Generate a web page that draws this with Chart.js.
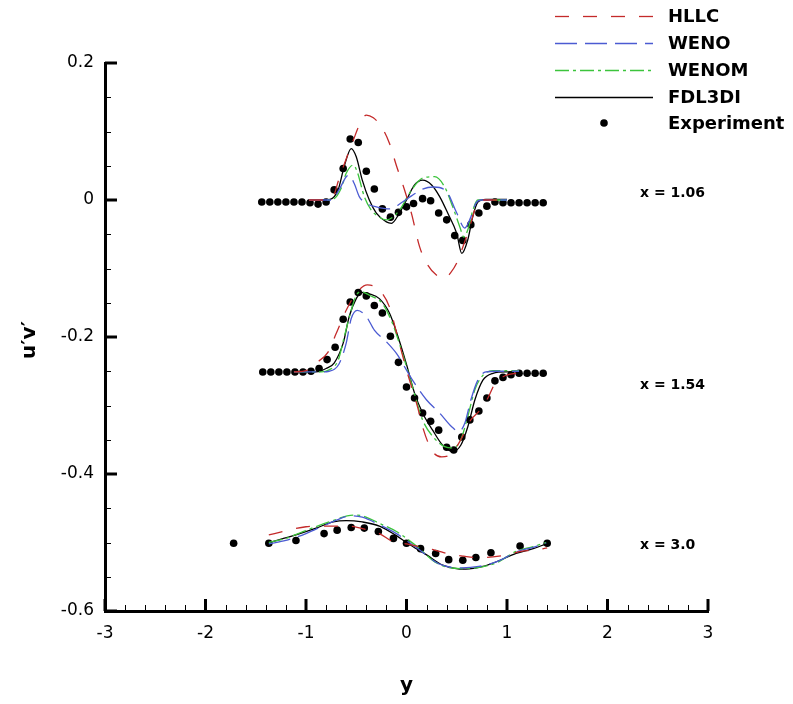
<!DOCTYPE html>
<html lang="en">
<head>
  <meta charset="UTF-8">
  <title>Reynolds shear stress profiles</title>
  <script src="https://cdn.jsdelivr.net/npm/chart.js"></script>
  <style>
    html, body { margin: 0; padding: 0; background: #fff; }
    #wrap { width: 793px; height: 704px; }
  </style>
</head>
<body>
  <div id="wrap"><canvas id="profileChart" width="793" height="704"></canvas></div>

  <script>
    // ---- station x = 1.06 ----
    const expX1 = [-1.44,-1.36,-1.28,-1.20,-1.12,-1.04,-0.96,-0.88,-0.80,-0.72,-0.63,-0.56,-0.48,-0.40,-0.32,-0.24,-0.16,-0.08,0.0,0.07,0.16,0.24,0.32,0.40,0.48,0.56,0.64,0.72,0.80,0.88,0.96,1.04,1.12,1.20,1.28,1.36];
    const expY1 = [-0.003,-0.003,-0.003,-0.003,-0.003,-0.003,-0.004,-0.006,-0.003,0.015,0.046,0.089,0.084,0.042,0.016,-0.013,-0.025,-0.018,-0.010,-0.005,0.002,-0.001,-0.019,-0.029,-0.052,-0.059,-0.036,-0.019,-0.009,-0.003,-0.004,-0.004,-0.004,-0.004,-0.004,-0.004];
    const fdlX1 = [-0.97,-0.85,-0.76,-0.68,-0.62,-0.55,-0.50,-0.44,-0.37,-0.30,-0.20,-0.15,-0.07,0.0,0.08,0.16,0.25,0.33,0.41,0.50,0.55,0.61,0.66,0.71,0.79,0.90,1.0];
    const fdlY1 = [0,0,0.001,0.015,0.049,0.075,0.063,0.029,0.0,-0.019,-0.032,-0.034,-0.019,0.0,0.022,0.029,0.022,0.005,-0.019,-0.049,-0.078,-0.058,-0.024,-0.003,0.001,0.001,0.001];
    const wenomX1 = [-0.97,-0.80,-0.72,-0.65,-0.60,-0.53,-0.49,-0.42,-0.35,-0.30,-0.20,-0.07,0.03,0.16,0.28,0.38,0.46,0.53,0.57,0.62,0.66,0.71,0.80,1.0];
    const wenomY1 = [0,0,0.002,0.017,0.039,0.051,0.041,0.005,-0.015,-0.022,-0.029,-0.015,0.010,0.032,0.034,0.019,-0.010,-0.039,-0.054,-0.039,-0.015,0,0,0];
    const wenoX1 = [-0.97,-0.75,-0.67,-0.60,-0.57,-0.52,-0.47,-0.40,-0.30,-0.17,-0.04,0.05,0.16,0.27,0.40,0.50,0.58,0.64,0.69,0.74,0.85,1.0];
    const wenoY1 = [0,0,0.015,0.034,0.036,0.024,0.005,-0.005,-0.010,-0.013,-0.003,0.006,0.016,0.019,0.012,-0.019,-0.041,-0.025,-0.005,0,0,0];
    const hllcX1 = [-0.97,-0.78,-0.72,-0.68,-0.60,-0.53,-0.47,-0.40,-0.33,-0.25,-0.17,-0.10,-0.02,0.05,0.13,0.20,0.30,0.38,0.44,0.50,0.55,0.63,0.69,0.76,1.0];
    const hllcY1 = [0,0,0.008,0.027,0.060,0.087,0.109,0.124,0.120,0.107,0.083,0.050,0.015,-0.020,-0.068,-0.092,-0.110,-0.114,-0.106,-0.092,-0.073,-0.039,-0.010,0,0];

    // ---- station x = 1.54 ----
    const expX2 = [-1.43,-1.35,-1.27,-1.19,-1.11,-1.03,-0.95,-0.87,-0.79,-0.71,-0.63,-0.56,-0.48,-0.40,-0.32,-0.24,-0.16,-0.08,0.0,0.08,0.16,0.24,0.32,0.40,0.47,0.55,0.63,0.72,0.80,0.88,0.96,1.04,1.12,1.20,1.28,1.36];
    const expY2 = [-0.251,-0.251,-0.251,-0.251,-0.251,-0.251,-0.250,-0.246,-0.233,-0.215,-0.174,-0.149,-0.135,-0.140,-0.154,-0.165,-0.199,-0.237,-0.273,-0.289,-0.311,-0.323,-0.336,-0.361,-0.365,-0.346,-0.321,-0.308,-0.289,-0.264,-0.259,-0.255,-0.253,-0.253,-0.253,-0.253];
    const fdlX2 = [-1.12,-0.90,-0.80,-0.72,-0.63,-0.57,-0.50,-0.45,-0.37,-0.27,-0.17,-0.09,0.0,0.08,0.16,0.26,0.36,0.46,0.54,0.61,0.68,0.76,0.86,0.99,1.12];
    const fdlY2 = [-0.251,-0.251,-0.246,-0.238,-0.209,-0.170,-0.144,-0.135,-0.137,-0.144,-0.165,-0.197,-0.240,-0.282,-0.311,-0.336,-0.358,-0.367,-0.358,-0.331,-0.292,-0.263,-0.253,-0.251,-0.251];
    const wenomX2 = [-1.12,-0.85,-0.77,-0.68,-0.62,-0.55,-0.50,-0.45,-0.37,-0.24,-0.14,-0.04,0.06,0.16,0.26,0.38,0.46,0.54,0.61,0.68,0.76,0.86,1.12];
    const wenomY2 = [-0.251,-0.251,-0.248,-0.234,-0.200,-0.161,-0.139,-0.134,-0.139,-0.151,-0.180,-0.224,-0.273,-0.321,-0.345,-0.360,-0.362,-0.350,-0.316,-0.277,-0.256,-0.249,-0.249];
    const wenoX2 = [-1.12,-0.85,-0.77,-0.67,-0.60,-0.55,-0.49,-0.40,-0.32,-0.20,-0.10,0.06,0.20,0.33,0.45,0.52,0.58,0.64,0.71,0.79,0.90,1.12];
    const wenoY2 = [-0.251,-0.251,-0.250,-0.239,-0.209,-0.173,-0.161,-0.170,-0.190,-0.207,-0.224,-0.263,-0.292,-0.311,-0.331,-0.338,-0.326,-0.292,-0.263,-0.251,-0.250,-0.250];
    const hllcX2 = [-1.12,-1.0,-0.92,-0.78,-0.70,-0.60,-0.50,-0.39,-0.29,-0.17,-0.09,0.0,0.03,0.11,0.16,0.25,0.35,0.45,0.54,0.64,0.73,0.81,0.88,0.96,1.12];
    const hllcY2 = [-0.251,-0.249,-0.240,-0.222,-0.195,-0.161,-0.136,-0.124,-0.129,-0.156,-0.199,-0.248,-0.263,-0.302,-0.331,-0.365,-0.375,-0.370,-0.350,-0.321,-0.307,-0.289,-0.268,-0.258,-0.252];

    // ---- station x = 3.0 ----
    const expX3 = [-1.72,-1.37,-1.10,-0.82,-0.69,-0.55,-0.42,-0.28,-0.13,0.0,0.14,0.29,0.42,0.56,0.69,0.84,1.13,1.40];
    const expY3 = [-0.501,-0.501,-0.497,-0.487,-0.482,-0.478,-0.479,-0.484,-0.494,-0.501,-0.509,-0.516,-0.525,-0.526,-0.522,-0.515,-0.505,-0.501];
    const fdlX3 = [-1.37,-1.10,-0.90,-0.73,-0.60,-0.44,-0.27,-0.10,0.01,0.20,0.36,0.59,0.76,0.93,1.09,1.26,1.39];
    const fdlY3 = [-0.500,-0.489,-0.479,-0.470,-0.468,-0.470,-0.476,-0.490,-0.501,-0.518,-0.533,-0.539,-0.535,-0.526,-0.516,-0.509,-0.502];
    const wenomX3 = [-1.37,-1.20,-1.03,-0.77,-0.53,-0.44,-0.27,-0.10,0.0,0.13,0.30,0.53,0.69,0.89,1.09,1.26,1.39];
    const wenomY3 = [-0.500,-0.494,-0.484,-0.470,-0.460,-0.461,-0.472,-0.484,-0.494,-0.509,-0.530,-0.538,-0.537,-0.530,-0.513,-0.506,-0.500];
    const wenoX3 = [-1.37,-1.20,-1.00,-0.77,-0.55,-0.44,-0.27,-0.10,0.0,0.15,0.32,0.55,0.72,0.90,1.09,1.26,1.39];
    const wenoY3 = [-0.502,-0.497,-0.487,-0.472,-0.461,-0.463,-0.474,-0.487,-0.497,-0.513,-0.531,-0.537,-0.535,-0.528,-0.514,-0.507,-0.501];
    const hllcX3 = [-1.37,-1.20,-1.00,-0.80,-0.60,-0.40,-0.27,-0.13,0.0,0.15,0.28,0.43,0.57,0.72,0.86,1.00,1.14,1.29,1.40];
    const hllcY3 = [-0.489,-0.483,-0.477,-0.476,-0.476,-0.481,-0.487,-0.499,-0.502,-0.507,-0.511,-0.517,-0.520,-0.522,-0.521,-0.518,-0.513,-0.511,-0.508];

    const xTicks = [-3, -2, -1, 0, 1, 2, 3];
    const yTicks = [0.2, 0, -0.2, -0.4, -0.6];
    const legendLabels = ['HLLC', 'WENO', 'WENOM', 'FDL3DI', 'Experiment'];
    const stationLabels = ['x = 1.06', 'x = 1.54', 'x = 3.0'];
    const stationY = [0.009, -0.27, -0.504];

    function pts(xs, ys) {
      return xs.map((x, i) => ({ x: x, y: ys[i] }));
    }

    const styles = {
      HLLC:   { color: '#c42a2a', dash: [14, 14] },
      WENO:   { color: '#4b5bd2', dash: [22, 8] },
      WENOM:  { color: '#3cc43c', dash: [14, 4, 3, 4] },
      FDL3DI: { color: '#000000', dash: [] }
    };

    function curve(name, xs, ys) {
      const s = styles[name];
      return {
        label: name,
        data: pts(xs, ys),
        showLine: true,
        borderColor: s.color,
        borderDash: s.dash,
        borderWidth: 1.3,
        pointRadius: 0,
        cubicInterpolationMode: 'monotone',
        fill: false
      };
    }

    function experiment(xs, ys) {
      return {
        label: 'Experiment',
        data: pts(xs, ys),
        showLine: false,
        pointRadius: 3.8,
        pointBackgroundColor: '#000',
        pointBorderWidth: 0,
        pointHoverRadius: 3.8
      };
    }

    const datasets = [
      curve('HLLC', hllcX1, hllcY1), curve('HLLC', hllcX2, hllcY2), curve('HLLC', hllcX3, hllcY3),
      curve('WENO', wenoX1, wenoY1), curve('WENO', wenoX2, wenoY2), curve('WENO', wenoX3, wenoY3),
      curve('WENOM', wenomX1, wenomY1), curve('WENOM', wenomX2, wenomY2), curve('WENOM', wenomX3, wenomY3),
      curve('FDL3DI', fdlX1, fdlY1), curve('FDL3DI', fdlX2, fdlY2), curve('FDL3DI', fdlX3, fdlY3),
      experiment(expX1, expY1), experiment(expX2, expY2), experiment(expX3, expY3)
    ];

    // inward major/minor ticks, legend, station labels and axis titles
    const decorations = {
      id: 'decorations',
      afterDraw(chart) {
        const ctx = chart.ctx;
        const xs = chart.scales.x, ys = chart.scales.y;
        const left = chart.chartArea.left, bottom = chart.chartArea.bottom;
        ctx.save();
        ctx.strokeStyle = '#000';

        // minor ticks
        ctx.lineWidth = 1;
        for (let v = -3; v <= 3.001; v += 0.2) {
          const p = Math.round(xs.getPixelForValue(v)) + 0.5;
          ctx.beginPath(); ctx.moveTo(p, bottom); ctx.lineTo(p, bottom - 6); ctx.stroke();
        }
        for (let v = -0.6; v <= 0.201; v += 0.05) {
          const p = Math.round(ys.getPixelForValue(v)) + 0.5;
          ctx.beginPath(); ctx.moveTo(left, p); ctx.lineTo(left + 6, p); ctx.stroke();
        }
        // major ticks
        ctx.lineWidth = 3;
        xTicks.forEach(v => {
          const p = xs.getPixelForValue(v);
          ctx.beginPath(); ctx.moveTo(p, bottom); ctx.lineTo(p, bottom - 12); ctx.stroke();
        });
        yTicks.forEach(v => {
          const p = ys.getPixelForValue(v);
          ctx.beginPath(); ctx.moveTo(left, p); ctx.lineTo(left + 12, p); ctx.stroke();
        });

        // legend
        const rowY = [16, 43, 70, 97, 123];
        ctx.textBaseline = 'middle';
        ctx.textAlign = 'left';
        ctx.font = 'bold 18px "DejaVu Sans"';
        legendLabels.forEach((name, i) => {
          const y = rowY[i];
          if (styles[name]) {
            ctx.strokeStyle = styles[name].color;
            ctx.lineWidth = 1.3;
            ctx.setLineDash(styles[name].dash);
            ctx.beginPath(); ctx.moveTo(555, y + 0.5); ctx.lineTo(653, y + 0.5); ctx.stroke();
            ctx.setLineDash([]);
          } else {
            ctx.fillStyle = '#000';
            ctx.beginPath(); ctx.arc(604, y, 3.8, 0, Math.PI * 2); ctx.fill();
          }
          ctx.fillStyle = '#000';
          ctx.fillText(name, 668, y + 1);
        });

        // station labels
        ctx.font = 'bold 14px "DejaVu Sans"';
        stationLabels.forEach((t, i) => {
          ctx.fillText(t, 640, ys.getPixelForValue(stationY[i]));
        });

        // axis titles
        ctx.font = 'bold 20px "DejaVu Sans"';
        ctx.textAlign = 'center';
        ctx.fillText('y', xs.getPixelForValue(0), 686);
        ctx.translate(30, 340);
        ctx.rotate(-Math.PI / 2);
        ctx.fillText('u\u2032v\u2032', 0, 0);
        ctx.restore();
      }
    };

    new Chart(document.getElementById('profileChart'), {
      type: 'scatter',
      data: { datasets: datasets },
      plugins: [decorations],
      options: {
        responsive: false,
        animation: false,
        events: [],
        layout: { padding: { top: 63, right: 85, left: 0, bottom: 0 } },
        plugins: { legend: { display: false }, tooltip: { enabled: false } },
        scales: {
          x: {
            type: 'linear',
            min: -3, max: 3,
            afterFit: s => { s.height = 93; },
            afterBuildTicks: s => { s.ticks = xTicks.map(v => ({ value: v })); },
            grid: { display: false, drawTicks: false },
            border: { display: true, color: '#000', width: 3 },
            ticks: {
              padding: 12,
              color: '#000',
              font: { family: 'DejaVu Sans', size: 17 },
              callback: v => String(v)
            }
          },
          y: {
            type: 'linear',
            min: -0.6, max: 0.2,
            afterFit: s => { s.width = 105; },
            afterBuildTicks: s => { s.ticks = yTicks.map(v => ({ value: v })); },
            grid: { display: false, drawTicks: false },
            border: { display: true, color: '#000', width: 3 },
            ticks: {
              padding: 11,
              color: '#000',
              font: { family: 'DejaVu Sans', size: 17 },
              callback: v => (v === 0 ? '0' : v.toFixed(1))
            }
          }
        }
      }
    });
  </script>
</body>
</html>
